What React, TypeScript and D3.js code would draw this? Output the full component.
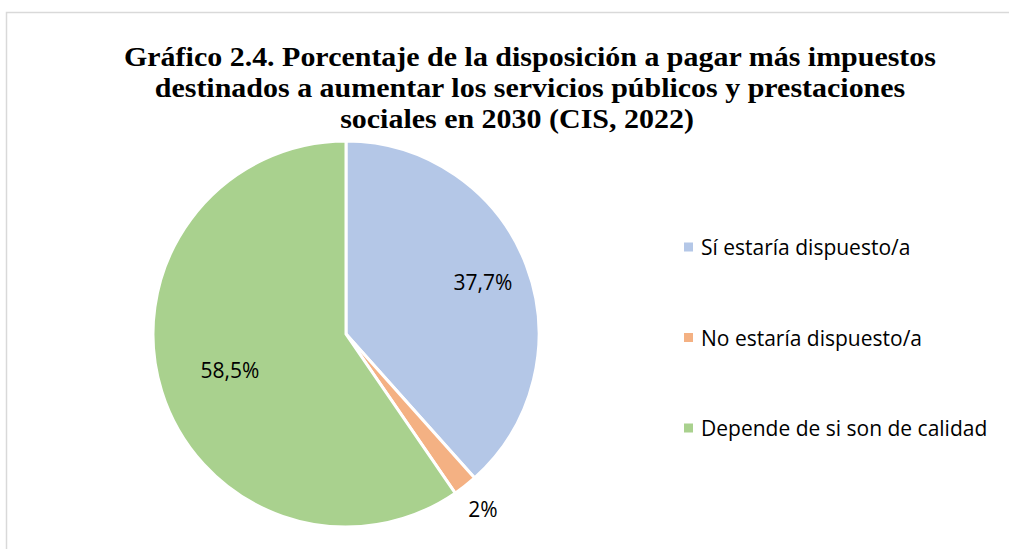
import React, { useEffect } from "react";
import * as d3 from "d3";

const categories = ["Sí estaría dispuesto/a", "No estaría dispuesto/a", "Depende de si son de calidad"];
const values = [37.7, 2, 58.5];
const valueLabels = ["37,7%", "2%", "58,5%"];
const colors = ["#B4C7E7", "#F4B183", "#A9D18E"];
const labelRadiusFactors = [0.76, 1.15, 0.63];
const titleLines = [
  "Gráfico 2.4. Porcentaje de la disposición a pagar más impuestos",
  "destinados a aumentar los servicios públicos y prestaciones",
  "sociales en 2030 (CIS, 2022)",
];

const W = 1009;
const H = 549;
const cx = 346;
const cy = 334;
const R = 193;

export default function App() {
  useEffect(() => {
    document.body.style.margin = "0";
  }, []);

  const pie = d3.pie<number>().sort(null).value((d) => d);
  const arcs = pie(values);
  const arcGen = d3.arc<d3.PieArcDatum<number>>().innerRadius(0).outerRadius(R);

  const legendY = d3.scalePoint<string>().domain(categories).range([247, 428]);

  const font = "'Open Sans', 'Noto Sans', sans-serif";
  const titleBaselines = [66, 97, 128];

  return (
    <svg width={W} height={H} style={{ position: "absolute", left: 0, top: 0, background: "#fff" }}>
      <rect x={0} y={0} width={W} height={H} fill="#fff" />
      <path d={`M6.5,${H} L6.5,12.5 L${W},12.5`} fill="none" stroke="#d9d9d9" strokeWidth={1.5} />
      {titleLines.map((t, i) => (
        <text
          key={i}
          transform={`translate(${i === 2 ? 517 : 530},${titleBaselines[i]}) scale(1.11,1.0)`}
          textAnchor="middle"
          fontFamily="'Liberation Serif', 'Times New Roman', serif"
          fontWeight="bold"
          fontSize={27}
          fill="#000"
        >
          {t}
        </text>
      ))}
      <g transform={`translate(${cx},${cy})`}>
        {arcs.map((a, i) => (
          <path key={i} d={arcGen(a) || ""} fill={colors[i]} stroke="#fff" strokeWidth={3} strokeLinejoin="miter" />
        ))}
        {arcs.map((a, i) => {
          const rr = R * labelRadiusFactors[i];
          const lab = d3.arc<d3.PieArcDatum<number>>().innerRadius(rr).outerRadius(rr);
          const [lx, ly] = lab.centroid(a);
          return (
            <text
              key={i}
              x={lx}
              y={ly}
              textAnchor="middle"
              dominantBaseline="central"
              fontFamily={font}
              fontSize={21}
              fill="#000"
            >
              {valueLabels[i]}
            </text>
          );
        })}
      </g>
      {categories.map((c, i) => {
        const y = legendY(c) as number;
        return (
          <g key={c}>
            <rect x={684} y={y - 4.5} width={9} height={9} fill={colors[i]} />
            <text x={701} y={y} dominantBaseline="central" fontFamily={font} fontSize={21} fill="#000">
              {c}
            </text>
          </g>
        );
      })}
    </svg>
  );
}
